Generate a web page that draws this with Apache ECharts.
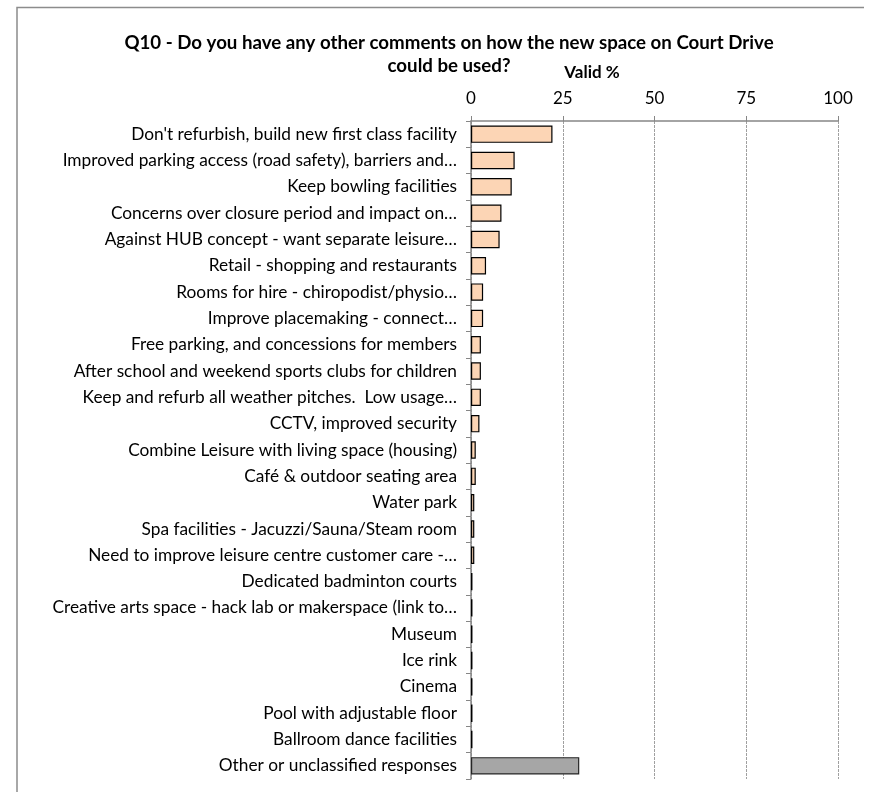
<!DOCTYPE html>
<html><head><meta charset="utf-8">
<script src="https://cdn.jsdelivr.net/npm/echarts@6/dist/echarts.min.js"></script>
<style>html,body{margin:0;padding:0;background:#fff}#c{width:874px;height:792px}</style>
</head><body><div id="c"></div>
<script>
const categories = [
  "Don't refurbish, build new first class facility",
  "Improved parking access (road safety), barriers and…",
  "Keep bowling facilities",
  "Concerns over closure period and impact on…",
  "Against HUB concept - want separate leisure…",
  "Retail - shopping and restaurants",
  "Rooms for hire - chiropodist/physio…",
  "Improve placemaking - connect…",
  "Free parking, and concessions for members",
  "After school and weekend sports clubs for children",
  "Keep and refurb all weather pitches.  Low usage…",
  "CCTV, improved security",
  "Combine Leisure with living space (housing)",
  "Café & outdoor seating area",
  "Water park",
  "Spa facilities - Jacuzzi/Sauna/Steam room",
  "Need to improve leisure centre customer care -…",
  "Dedicated badminton courts",
  "Creative arts space - hack lab or makerspace (link to…",
  "Museum",
  "Ice rink",
  "Cinema",
  "Pool with adjustable floor",
  "Ballroom dance facilities",
  "Other or unclassified responses"
];
const validPct = [22.2, 11.9, 11.1, 8.3, 7.8, 4.1, 3.3, 3.3, 2.7, 2.7, 2.7, 2.3, 1.3, 1.3, 0.9, 0.9, 0.9, 0.4, 0.4, 0.4, 0.4, 0.4, 0.4, 0.4, 29.5];
const otherCategory = "Other or unclassified responses";
const xTicks = [0, 25, 50, 75, 100];
const titleText = "Q10 - Do you have any other comments on how the new space on Court Drive\ncould be used?";
const axisName = "Valid %";

const FONT = "Lato";
const chart = echarts.init(document.getElementById('c'), null, {renderer: 'canvas'});
chart.setOption({
  animation: false,
  backgroundColor: '#fff',
  graphic: [
    {type: 'polyline', shape: {points: [[17, 792], [17, 7.5], [864, 7.5]]}, style: {stroke: '#8c8c8c', lineWidth: 1.5, fill: null}}
  ],
  title: {
    text: titleText, left: 444, top: 26, textAlign: 'center',
    textStyle: {fontFamily: FONT, fontWeight: 'bold', fontSize: 18.7, color: '#000', lineHeight: 23}
  },
  grid: {left: 471, right: 36, top: 121, bottom: 13, containLabel: false},
  xAxis: {
    type: 'value', position: 'top', min: xTicks[0], max: xTicks[xTicks.length - 1], interval: 25,
    name: axisName, nameLocation: 'middle', nameGap: 40,
    nameTextStyle: {fontFamily: FONT, fontWeight: 'bold', fontSize: 17, color: '#000', padding: [0, 0, 0, -125]},
    axisLine: {show: true, lineStyle: {color: '#868686', width: 1.5}},
    axisTick: {show: true, length: 5, inside: false, lineStyle: {color: '#868686'}},
    axisLabel: {fontFamily: FONT, fontSize: 17, color: '#000', margin: 14},
    splitLine: {show: true, lineStyle: {color: '#a0a0a0', type: [3, 1], width: 1}}
  },
  yAxis: {
    type: 'category', data: categories, inverse: true,
    axisLine: {show: true, lineStyle: {color: '#868686', width: 1.5}},
    axisTick: {show: true, length: 5, lineStyle: {color: '#868686'}},
    axisLabel: {fontFamily: FONT, fontSize: 17.3, color: '#000', margin: 14, interval: 0},
    splitLine: {show: false}
  },
  series: [{
    type: 'bar', barCategoryGap: '34%',
    data: validPct.map((v, i) => ({
      value: v,
      itemStyle: categories[i] === otherCategory
        ? {color: '#a6a6a6', borderColor: '#262626', borderWidth: 1.2}
        : {color: '#fcd5b5', borderColor: '#000', borderWidth: 1.2}
    }))
  }]
});
</script></body></html>
